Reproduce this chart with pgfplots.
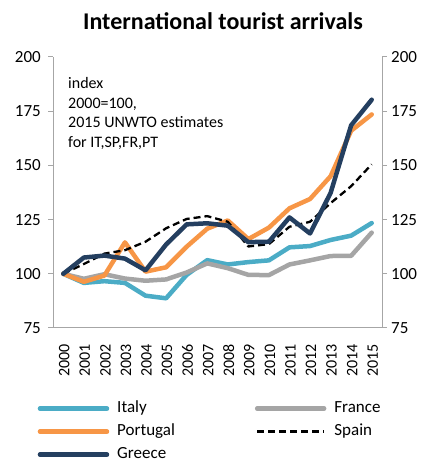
\documentclass[border=0pt]{standalone}
\usepackage{fontspec}
\setmainfont{Carlito}
\usepackage{pgfplots}
\pgfplotsset{compat=1.18}
\definecolor{italy}{HTML}{4BACC6}
\definecolor{france}{HTML}{A5A5A5}
\definecolor{portugal}{HTML}{F79646}
\definecolor{greece}{HTML}{243F60}
\definecolor{axgray}{HTML}{A6A6A6}
\begin{document}
\begin{tikzpicture}
\path[use as bounding box] (0pt,0pt) rectangle (427pt,463pt);
\node[font=\fontsize{24}{28}\selectfont\bfseries] at (223pt,442pt) {International tourist arrivals};
\begin{axis}[
  at={(53pt,135pt)}, anchor=south west,
  scale only axis, width=329pt, height=271pt,
  xmin=1999.5, xmax=2015.5, ymin=75, ymax=200,
  axis x line*=bottom, axis y line*=left,
  axis line style={draw=axgray, line width=1pt},
  ytick={75,100,125,150,175,200},
  xtick={2000,...,2015},
  x tick style={draw=none},
  y tick style={draw=axgray, line width=1pt},
  tick align=outside, major tick length=5pt,
  /pgf/number format/assume math mode=true,
  /pgf/number format/1000 sep={},
  yticklabel style={font=\fontsize{17}{20}\selectfont, anchor=east, inner sep=0pt, xshift=-7pt},
  xticklabel style={font=\fontsize{16}{20}\selectfont, rotate=90, anchor=east, inner sep=0pt, yshift=-1pt, xshift=-11pt},
  legend columns=2,
  legend cell align=left,
  legend style={draw=none, fill=none, at={(rel axis cs:-0.047,-0.267)}, anchor=north west,
    font=\fontsize{17}{20}\selectfont, inner sep=0pt, row sep=7pt,
    nodes={inner sep=0pt, text height=12pt, text depth=4pt},
    /tikz/every odd column/.append style={column sep=8pt},
    /tikz/every even column/.append style={column sep=80pt}},
  legend image code/.code={\draw[#1] (2pt,0pt) -- (69pt,0pt);},
  every axis plot/.append style={line join=round},
]
\addplot[italy, line width=4.5pt, line cap=round] coordinates {
(2000,100)(2001,95.8)(2002,96.6)(2003,95.8)(2004,89.9)(2005,88.7)(2006,99.5)(2007,106.3)
(2008,104.3)(2009,105.4)(2010,106.2)(2011,112.2)(2012,112.8)(2013,115.6)(2014,117.6)(2015,123.4)};
\addlegendentry{Italy}
\addplot[france, line width=4.5pt, line cap=round] coordinates {
(2000,100)(2001,97.7)(2002,99.8)(2003,97.8)(2004,96.8)(2005,97.4)(2006,100.6)(2007,104.8)
(2008,102.6)(2009,99.5)(2010,99.4)(2011,104.3)(2012,106.2)(2013,108.2)(2014,108.3)(2015,119)};
\addlegendentry{France}
\addplot[portugal, line width=4.5pt, line cap=round] coordinates {
(2000,100)(2001,96.3)(2002,99.2)(2003,114.5)(2004,101)(2005,103)(2006,112.5)(2007,120.8)
(2008,124.6)(2009,116)(2010,121.3)(2011,130.2)(2012,134.5)(2013,145)(2014,166)(2015,173.5)};
\addlegendentry{Portugal}
\addplot[black, line width=2.3pt, dash pattern=on 7pt off 4pt] coordinates {
(2000,100)(2001,104.5)(2002,109.3)(2003,110.9)(2004,114.8)(2005,121)(2006,125.3)(2007,126.6)
(2008,124)(2009,112.6)(2010,113.7)(2011,121.7)(2012,124)(2013,132.6)(2014,140.4)(2015,150.5)};
\addlegendentry{Spain}
\addplot[greece, line width=4.5pt, line cap=round] coordinates {
(2000,100)(2001,107.5)(2002,108.4)(2003,107)(2004,101.6)(2005,113.5)(2006,122.8)(2007,123.3)
(2008,122.2)(2009,114.6)(2010,114.8)(2011,126)(2012,118.6)(2013,137.3)(2014,168.5)(2015,180.3)};
\addlegendentry{Greece}
\end{axis}
\begin{axis}[
  at={(53pt,135pt)}, anchor=south west,
  scale only axis, width=329pt, height=271pt,
  xmin=1999.5, xmax=2015.5, ymin=75, ymax=200,
  axis x line=none, axis y line*=right,
  axis line style={draw=axgray, line width=1pt},
  ytick={75,100,125,150,175,200},
  y tick style={draw=axgray, line width=1pt},
  tick align=outside, major tick length=5pt,
  /pgf/number format/assume math mode=true,
  yticklabel style={font=\fontsize{17}{20}\selectfont, anchor=west, inner sep=0pt, xshift=4pt},
]
\addplot[draw=none] coordinates {(2000,100)};
\end{axis}
\node[anchor=north west, align=left, font=\fontsize{16}{19.7}\selectfont, inner sep=0pt] at (68pt,386pt) {index\\2000=100,\\2015 UNWTO estimates\\for IT,SP,FR,PT};
\end{tikzpicture}
\end{document}
